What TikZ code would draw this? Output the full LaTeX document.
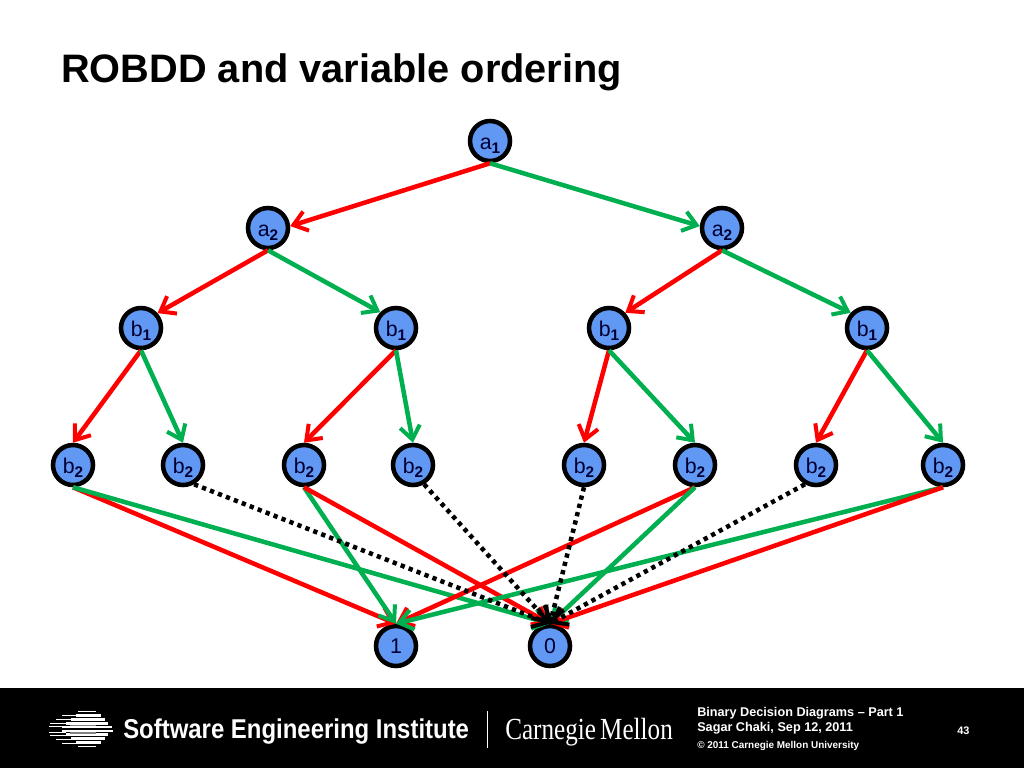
\documentclass[tikz,border=0pt]{standalone}
\usepackage{fontspec}
\setmainfont{Liberation Sans}
\newfontfamily\serifcm{Liberation Serif}
\usetikzlibrary{arrows.meta}
\definecolor{nodeblue}{HTML}{6098F4}
\definecolor{edgered}{HTML}{FF0000}
\definecolor{edgegreen}{HTML}{00B050}
\definecolor{nodeink}{HTML}{000033}
\tikzset{
  bdd/.style={circle,draw=black,fill=nodeblue,line width=3.4pt,minimum size=30pt,inner sep=0pt,text=nodeink,font=\fontsize{16}{16}\selectfont},
  edgebase/.style={line width=3.4pt,-{Straight Barb[length=10pt,width=15pt,line width=3pt]}},
  lo/.style={edgebase,draw=edgered},
  hi/.style={edgebase,draw=edgegreen},
  zero/.style={edgebase,draw=black,dash pattern=on 3.2pt off 3.2pt},
  foot/.style={text=white,anchor=west,inner sep=0pt,font=\bfseries\fontsize{9.5}{9.5}\selectfont},
  stripe/.style={draw=white}
}
\newcommand{\lbl}[2]{\smash{\raisebox{-6.5pt}{#1\raisebox{-2.8pt}{\fontsize{11.5}{12}\selectfont\bfseries #2}}}}
\newcommand{\dgt}[1]{\smash{\raisebox{-5.5pt}{#1}}}
\begin{document}
\begin{tikzpicture}[x=0.75pt,y=-0.75pt]
\useasboundingbox (0,0) rectangle (1024,768);
\fill[white] (0,0) rectangle (1024,768);
\fill[black] (0,688) rectangle (1024,768);
\node[anchor=west,inner sep=0pt,font=\bfseries\fontsize{29.8}{30}\selectfont] (title) at (61,72) {ROBDD and variable ordering};
% nodes
\node[bdd] (a1) at (490,141) {\lbl{a}{1}};
\node[bdd] (a2l) at (268,228) {\lbl{a}{2}};
\node[bdd] (a2r) at (722,228) {\lbl{a}{2}};
\node[bdd] (b1a) at (141,328) {\lbl{b}{1}};
\node[bdd] (b1b) at (396,328) {\lbl{b}{1}};
\node[bdd] (b1c) at (609,328) {\lbl{b}{1}};
\node[bdd] (b1d) at (867,328) {\lbl{b}{1}};
\node[bdd] (c1) at (73,465) {\lbl{b}{2}};
\node[bdd] (c2) at (183,465) {\lbl{b}{2}};
\node[bdd] (c3) at (304,465) {\lbl{b}{2}};
\node[bdd] (c4) at (413,465) {\lbl{b}{2}};
\node[bdd] (c5) at (584,465) {\lbl{b}{2}};
\node[bdd] (c6) at (695,465) {\lbl{b}{2}};
\node[bdd] (c7) at (816,465) {\lbl{b}{2}};
\node[bdd] (c8) at (943,465) {\lbl{b}{2}};
\node[bdd] (one) at (396,646) {\dgt{1}};
\node[bdd] (nil) at (550,646) {\dgt{0}};
% edges
\draw[lo] (a1.south) -- (a2l.5);
\draw[hi] (a1.south) -- (a2r.175);
\draw[lo] (a2l.south) -- (b1a.42);
\draw[hi] (a2l.south) -- (b1b.135);
\draw[lo] (a2r.south) -- (b1c.43);
\draw[hi] (a2r.south) -- (b1d.137);
\draw[lo] (b1a.south) -- (c1.north);
\draw[hi] (b1a.south) -- (c2.north);
\draw[lo] (b1b.south) -- (c3.north);
\draw[hi] (b1b.south) -- (c4.north);
\draw[lo] (b1c.south) -- (c5.north);
\draw[hi] (b1c.south) -- (c6.north);
\draw[lo] (b1d.south) -- (c7.north);
\draw[hi] (b1d.south) -- (c8.north);
\draw[lo] (c1.south) -- (one.north);
\draw[hi] (c1.south) -- (nil.north);
\draw[hi] (c3.south) -- (one.north);
\draw[lo] (c3.south) -- (nil.north);
\draw[lo] (c6.south) -- (one.north);
\draw[hi] (c6.south) -- (nil.north);
\draw[hi] (c8.south) -- (one.north);
\draw[lo] (c8.south) -- (nil.north);
\draw[zero] (c2.300) -- (nil.north);
\draw[zero] (c4.300) -- (nil.north);
\draw[zero] (c5.south) -- (nil.north);
\draw[zero] (c7.240) -- (nil.north);
% footer logo
\foreach \y/\l/\r in {715/62/78,719/56/72,723/50/68,726/49/66,732/49/66,735/50/68,739/56/72,743/62/78}
  \draw[stripe,line width=0.6pt] (\l,\y) -- (\r,\y);
\foreach \y/\l/\r/\w in {711.5/78/96/1.4,715.5/76/101/1.8,719.5/71/105/2,723.5/66/108/2.2,727/62/112/1.9,731/62/113/1.9,734.5/66/108/2.2,738.5/71/105/2,742.5/76/101/1.8,746.5/78/96/1.4}
  \draw[stripe,line width=\w pt] (\l,\y) -- (\r,\y);
\draw[gray,line width=0.9pt] (70,725.2) -- (96,725.2);
\draw[gray,line width=0.9pt] (70,732.9) -- (96,732.9);
\node[anchor=west,inner sep=0pt,text=white] (sei) at (123,732) {\scalebox{0.88}[1]{\bfseries\fontsize{20.4}{20}\selectfont Software Engineering Institute}};
\draw[white,line width=0.5pt] (487,711) -- (487,748);
\node[anchor=west,inner sep=0pt,text=white] (cmu) at (505,732) {\scalebox{0.82}[1]{\serifcm\fontsize{23}{23}\selectfont Carnegie\,Mellon}};
\node[foot] (f1) at (697,713) {Binary Decision Diagrams – Part 1};
\node[foot] (f2) at (697,728) {Sagar Chaki, Sep 12, 2011};
\node[foot,font=\bfseries\fontsize{7.45}{7.45}\selectfont] (f3) at (697,746) {© 2011 Carnegie Mellon University};
\node[foot,font=\bfseries\fontsize{8.2}{8.2}\selectfont] (pg) at (957,730.5) {43};
\end{tikzpicture}
\end{document}
